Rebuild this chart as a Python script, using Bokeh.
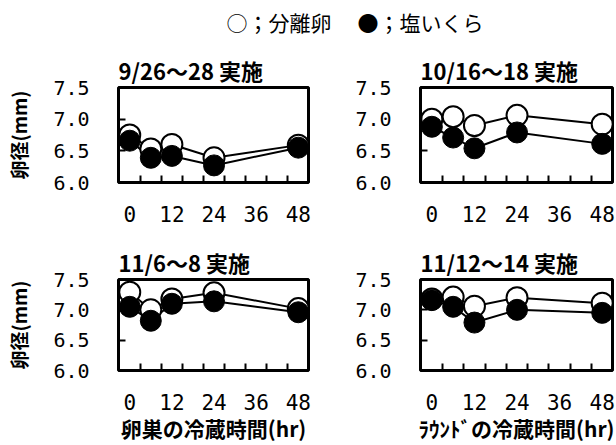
from bokeh.plotting import figure
from bokeh.layouts import column, row
from bokeh.models import Range1d, FixedTicker, PrintfTickFormatter, ColumnDataSource
from bokeh.embed import file_html
from bokeh.resources import INLINE
from bokeh.core.properties import value

# ---------------- data ----------------
hours = [0, 6, 12, 24, 48]
titles = ["9/26～28 実施", "10/16～18 実施", "11/6～8 実施", "11/12～14 実施"]
sep_1 = [6.75, 6.53, 6.60, 6.39, 6.59]
salt_1 = [6.66, 6.39, 6.42, 6.27, 6.55]
sep_2 = [7.00, 7.04, 6.90, 7.06, 6.92]
salt_2 = [6.88, 6.71, 6.54, 6.79, 6.61]
sep_3 = [7.29, 7.00, 7.18, 7.28, 7.02]
salt_3 = [7.05, 6.82, 7.10, 7.14, 6.96]
sep_4 = [7.18, 7.21, 7.06, 7.20, 7.11]
salt_4 = [7.16, 7.05, 6.79, 7.00, 6.95]
x_ticks = [0, 12, 24, 36, 48]
x_minor = [3, 9, 15, 21, 27, 33, 39, 45]
y_ticks = [6.0, 6.5, 7.0, 7.5]
legend_labels = ["○；分離卵", "●；塩いくら"]
x_titles = ["卵巣の冷蔵時間(hr)", "ﾗｳﾝﾄﾞの冷蔵時間(hr)"]
y_title = "卵径(mm)"

JP = "Noto Sans CJK JP"
NUM = "DejaVu Sans Mono"


def panel(title, sep, salt, width, height, bl, br, bt, bb, ylab=None, xlab=None):
    p = figure(width=width, height=height, title=title,
               x_range=Range1d(-3.2, 50.9), y_range=Range1d(6.0, 7.5),
               output_backend="svg", toolbar_location=None,
               min_border_left=bl, min_border_right=br,
               min_border_top=bt, min_border_bottom=bb)
    p.title.align = "left"
    p.title.text_font = JP
    p.title.text_font_size = "22px"
    p.title.text_font_style = "bold"
    p.title.text_color = "black"
    p.title.standoff = 4
    p.grid.visible = False
    p.outline_line_color = "black"
    p.outline_line_width = 3
    p.outline_line_alpha = 1.0

    xa = p.xaxis[0]
    xa.ticker = FixedTicker(ticks=x_ticks, minor_ticks=x_minor)
    xa.axis_line_color = None
    xa.major_tick_line_color = None
    xa.minor_tick_in = 7
    xa.minor_tick_out = 0
    xa.minor_tick_line_width = 2
    xa.minor_tick_line_color = "black"
    xa.major_label_standoff = 17
    xa.major_label_text_font = NUM
    xa.major_label_text_font_size = "21px"
    xa.major_label_text_color = "black"

    ya = p.yaxis[0]
    ya.ticker = FixedTicker(ticks=y_ticks)
    ya.formatter = PrintfTickFormatter(format="%.1f")
    ya.axis_line_color = None
    ya.minor_tick_line_color = None
    ya.major_tick_in = 7
    ya.major_tick_out = 0
    ya.major_tick_line_width = 2
    ya.major_tick_line_color = "black"
    ya.major_label_standoff = 29
    ya.major_label_text_font = NUM
    ya.major_label_text_font_size = "20px"
    ya.major_label_text_color = "black"

    if ylab:
        ya.axis_label = ylab
        ya.axis_label_text_font = JP
        ya.axis_label_text_font_size = "19px"
        ya.axis_label_text_font_style = "bold"
        ya.axis_label_text_color = "black"
        ya.axis_label_standoff = 18
    if xlab:
        xa.axis_label = xlab
        xa.axis_label_text_font = JP
        xa.axis_label_text_font_size = "21px"
        xa.axis_label_text_font_style = "bold"
        xa.axis_label_text_color = "black"
        xa.axis_label_standoff = 0

    src = ColumnDataSource(dict(h=hours, sep=sep, salt=salt))
    p.line("h", "sep", source=src, line_color="black", line_width=2, level="overlay")
    p.line("h", "salt", source=src, line_color="black", line_width=2, level="overlay")
    p.scatter("h", "sep", source=src, size=21, marker="circle",
              fill_color="white", line_color="black", line_width=2, level="overlay")
    p.scatter("h", "salt", source=src, size=21, marker="circle",
              fill_color="black", line_color="black", line_width=1, level="overlay")
    return p


# head with the legend texts
head = figure(width=616, height=44, x_range=Range1d(0, 616), y_range=Range1d(0, 44),
              output_backend="svg", toolbar_location=None,
              min_border_left=0, min_border_right=0, min_border_top=0, min_border_bottom=0)
head.axis.visible = False
head.grid.visible = False
head.outline_line_color = None
head.text(x=[226, 357], y=[23, 23], text=legend_labels,
          text_font=value(JP), text_font_size="21px", text_baseline="middle",
          text_color="black")

tl = panel(titles[0], sep_1, salt_1, 318, 43 + 95 + 54, 118, 10, 43, 54, ylab=y_title)
tr = panel(titles[1], sep_2, salt_2, 298, 43 + 95 + 54, 102, 4, 43, 54)
bl = panel(titles[2], sep_3, salt_3, 318, 43 + 91 + 75, 118, 10, 43, 75, ylab=y_title, xlab=x_titles[0])
br = panel(titles[3], sep_4, salt_4, 298, 43 + 91 + 75, 102, 4, 43, 75, xlab=x_titles[1])

layout = column(head, row(tl, tr), row(bl, br))

open("out.html", "w").write(file_html(layout, INLINE))
